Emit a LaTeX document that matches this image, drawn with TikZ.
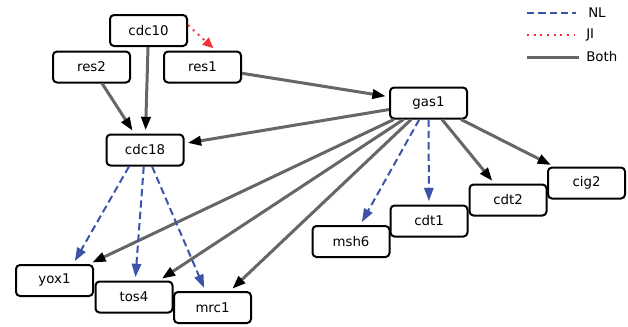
\documentclass[tikz,border=0pt]{standalone}
\usepackage{fontspec}
\setmainfont{DejaVu Sans}
\usetikzlibrary{arrows.meta}

\definecolor{nlblue}{RGB}{59,84,168}
\definecolor{jired}{RGB}{238,52,58}
\definecolor{bothgray}{RGB}{102,102,102}

\begin{document}
\begin{tikzpicture}[
    x=0.75pt, y=-0.75pt,
    gene/.style={draw=black, line width=1.5pt, rounded corners=3pt, fill=white,
      minimum width=57.75pt, minimum height=23.25pt, inner sep=0pt,
      font=\fontsize{10}{12}\selectfont},
    both/.style={draw=bothgray, line width=2.25pt, shorten >=2.5pt,
      -{Triangle[black, length=10pt, width=7pt]}},
    nl/.style={draw=nlblue, line width=1.5pt, dash pattern=on 5.5pt off 3pt,
      shorten >=2.5pt, -{Triangle[length=10pt, width=7pt]}},
    ji/.style={draw=jired, line width=1.5pt, dash pattern=on 1.5pt off 3.5pt,
      shorten >=2.5pt, -{Triangle[length=8pt, width=7pt]}},
    key/.style={font=\fontsize{10}{12}\selectfont, anchor=west, inner sep=0pt}
  ]

    % Canvas
    \useasboundingbox (0,0) rectangle (628,326);

    % Genes, top
    \node[gene] (cdc10) at (148.5, 30.5) {cdc10};
    \node[gene] (res2) at (91.5, 67) {res2};
    \node[gene] (res1) at (202.5, 67) {res1};
    \node[gene] (cdc18) at (145, 150) {cdc18};
    \node[gene] (gas1) at (428.5, 103) {gas1};

    % Genes, bottom left
    \node[gene] (yox1) at (54.5, 280.5) {yox1};
    \node[gene] (tos4) at (134, 297) {tos4};
    \node[gene] (mrc1) at (212.5, 307.5) {mrc1};

    % Genes, bottom right
    \node[gene] (msh6) at (351, 241.5) {msh6};
    \node[gene] (cdt1) at (429, 221) {cdt1};
    \node[gene] (cdt2) at (508, 200) {cdt2};
    \node[gene] (cig2) at (586.5, 183) {cig2};

    % JI only
    \draw[ji] ([yshift=4pt]cdc10.east) -- ([xshift=10pt]res1.north);

    % Both
    \draw[both] (cdc10) -- (cdc18);
    \draw[both] (res2) -- (cdc18);
    \draw[both] (res1) -- (gas1);
    \draw[both] (gas1) -- (cdc18);
    \draw[both] (gas1) -- (yox1);
    \draw[both] (gas1) -- (tos4);
    \draw[both] (gas1) -- (mrc1);
    \draw[both] (gas1) -- (cdt2);
    \draw[both] (gas1) -- (cig2);

    % NL only
    \draw[nl] ([xshift=-12pt]cdc18.south) -- ([xshift=14pt]yox1.north);
    \draw[nl] (cdc18) -- (tos4);
    \draw[nl] (cdc18) -- (mrc1);
    \draw[nl] (gas1) -- (msh6);
    \draw[nl] (gas1) -- (cdt1);

    % Legend
    \node[key] (keynl) at (588, 13) {NL};
    \node[key] (keyji) at (586, 35) {JI};
    \node[key] (keyboth) at (586, 57) {Both};
    \coordinate (nlstart) at (527, 13);
    \coordinate (jistart) at (527, 35);
    \coordinate (bothstart) at (527, 57);
    \draw[draw=nlblue, line width=1.5pt, dash pattern=on 5.5pt off 3pt]
      (nlstart) -- ([xshift=-9pt]keynl.west);
    \draw[draw=jired, line width=1.5pt, dash pattern=on 1.5pt off 3.5pt]
      (jistart) -- ([xshift=-8pt]keyji.west);
    \draw[draw=bothgray, line width=2.25pt] (bothstart) -- ([xshift=-5pt]keyboth.west);

  \end{tikzpicture}
\end{document}
